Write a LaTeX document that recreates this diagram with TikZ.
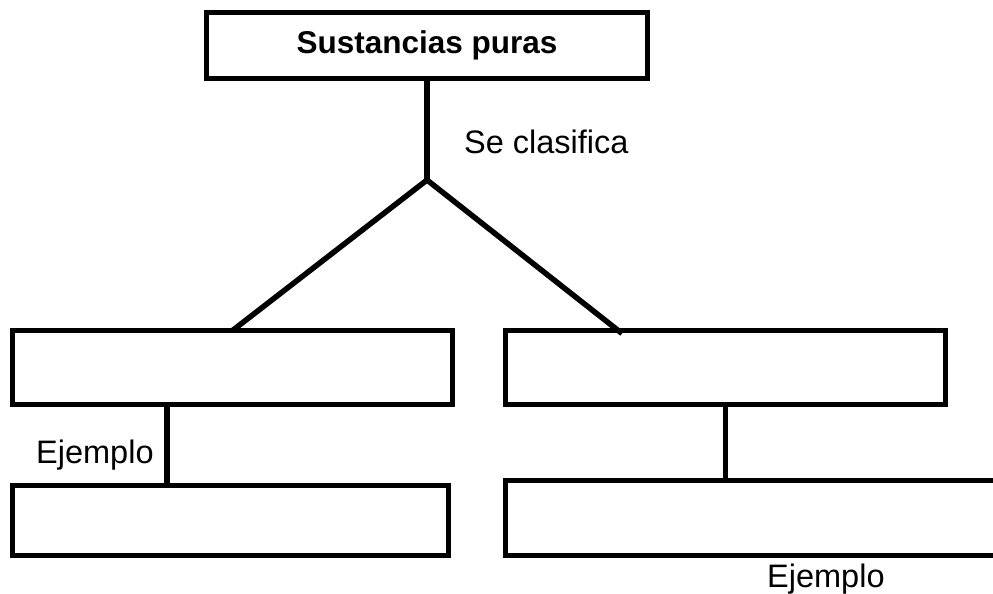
\documentclass[tikz,border=0pt]{standalone}
\usepackage{fontspec}
\setmainfont{Liberation Sans}
\usetikzlibrary{positioning, calc}
\tikzset{
    x=1pt, y=-1pt,
    font=\fontsize{32.5}{39}\selectfont,
    cm_box/.style={
        rectangle,
        draw=black,
        fill=white,
        line width=5.5pt,
        inner sep=0pt,
        outer sep=0pt,
        minimum width=440pt,
        minimum height=74pt,
        align=center
    },
    cm_line/.style={
        draw=black,
        line width=5.5pt
    },
    cm_label/.style={
        inner sep=0pt,
        anchor=base west
    }
}

\begin{document}
\begin{tikzpicture}
\clip (0,0) rectangle (993,594);
\fill[white] (0,0) rectangle (993,594);

% --- Top concept ---
\node[cm_box, minimum width=441pt, minimum height=66pt, font=\fontsize{31.5}{38}\selectfont\bfseries] (Pure) at (427,45.5) {Sustancias puras};
\coordinate (Split) at (427,180);

% --- Second row ---
\node[cm_box] (LeftType) at (232.5,367.5) {};
\node[cm_box] (RightType) at (725.5,367.5) {};

% --- Example row ---
\node[cm_box, minimum width=436pt, minimum height=70pt] (LeftEx) at (230.5,520.5) {};
\node[cm_box, minimum width=500pt, minimum height=75pt] (RightEx) at (755.5,518) {};

% --- Labels ---
\node[cm_label] (lblClass) at (464,153) {Se clasifica};
\node[cm_label] (lblLeftEx) at (36,463) {Ejemplo};
\node[cm_label] (lblRightEx) at (767,587) {Ejemplo};

% --- Edges ---
\draw[cm_line] (Pure.south) -- (Split);
\draw[cm_line] (Split) -- (LeftType.north);
\draw[cm_line] (Split) -- ([xshift=116.5pt, yshift=-3pt]RightType.north west);
\draw[cm_line] ([xshift=154.5pt]LeftType.south west) -- ([xshift=154.5pt]LeftType.south west |- LeftEx.north);
\draw[cm_line] (RightType.south) -- (RightType.south |- RightEx.north);

\end{tikzpicture}
\end{document}
